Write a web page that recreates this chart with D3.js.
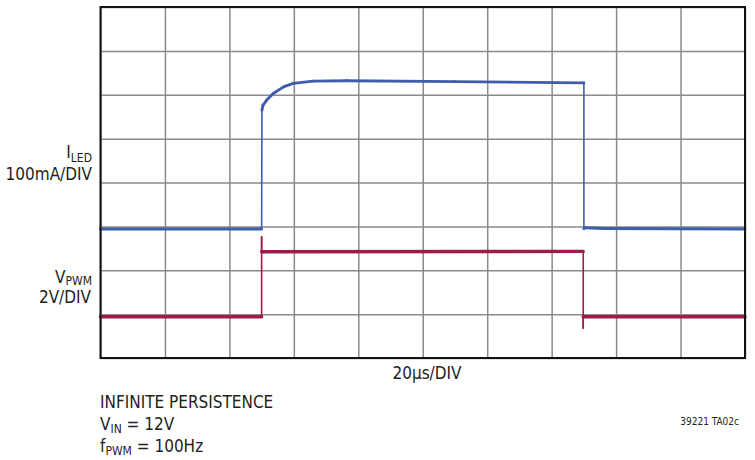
<!DOCTYPE html>
<html>
<head>
<meta charset="utf-8">
<script src="https://cdn.jsdelivr.net/npm/d3@7"></script>
<style>
  body { margin: 0; background: #fff; }
  svg text { font-family: "Liberation Sans Narrow", "DejaVu Sans Condensed", "Liberation Sans", sans-serif; fill: #231f20; }
</style>
</head>
<body>
<svg id="scope" width="755" height="460"></svg>
<script>
// scope grid: 10 x 8 divisions
var xDivs = d3.range(0, 11);
var yDivs = d3.range(0, 9);

// I_LED trace (time in div, level in div from bottom)
var ledTime  = [0, 2.5, 2.505, 2.52, 2.58, 2.68, 2.84, 2.99, 3.3, 3.82, 5.5, 7.49, 7.5, 7.5, 7.53, 7.8, 10];
var ledLevel = [2.94, 2.94, 5.65, 5.76, 5.88, 6.03, 6.18, 6.26, 6.31, 6.32, 6.30, 6.27, 6.27, 2.95, 2.97, 2.95, 2.94];

// V_PWM trace
var pwmTime  = [0, 2.5, 2.5, 2.5, 2.51, 7.49, 7.49, 7.49, 7.5, 10];
var pwmLevel = [0.94, 0.94, 2.76, 2.42, 2.42, 2.43, 0.68, 0.94, 0.94, 0.94];

var svg = d3.select("#scope");

var margin = {left: 100.5, top: 7, right: 10, bottom: 102};
var plotWidth = 755 - margin.left - margin.right;
var plotHeight = 460 - margin.top - margin.bottom;

var x = d3.scaleLinear().domain([0, 10]).range([0, plotWidth]);
var y = d3.scaleLinear().domain([0, 8]).range([plotHeight, 0]);

var plot = svg.append("g")
  .attr("transform", "translate(" + margin.left + "," + margin.top + ")");

// grid lines
var xGrid = d3.axisBottom(x).tickValues(xDivs).tickSize(-plotHeight).tickFormat("");
var yGrid = d3.axisLeft(y).tickValues(yDivs).tickSize(-plotWidth).tickFormat("");

plot.append("g").attr("class", "grid")
  .attr("transform", "translate(0," + plotHeight + ")")
  .call(xGrid);
plot.append("g").attr("class", "grid")
  .call(yGrid);
plot.selectAll(".grid .domain").remove();
plot.selectAll(".grid line")
  .attr("stroke", "#8a8a8a")
  .attr("stroke-width", 1.5);

// trace drawn piece by piece: fast edges are thinner on a scope
function drawTrace(times, levels, colour, flatWidth, edgeWidth) {
  var pts = d3.zip(times, levels);
  var segs = d3.pairs(pts);
  plot.append("g").selectAll("line")
    .data(segs)
    .join("line")
    .attr("x1", function(d){ return x(d[0][0]); })
    .attr("y1", function(d){ return y(d[0][1]); })
    .attr("x2", function(d){ return x(d[1][0]); })
    .attr("y2", function(d){ return y(d[1][1]); })
    .attr("stroke", colour)
    .attr("stroke-linecap", "round")
    .attr("stroke-width", function(d){
      var dx = Math.abs(x(d[1][0]) - x(d[0][0]));
      var dy = Math.abs(y(d[1][1]) - y(d[0][1]));
      return dy > dx * 3 && dy > 8 ? edgeWidth : flatWidth;
    });
}

drawTrace(pwmTime, pwmLevel, "#a01c48", 3.4, 1.6);
drawTrace(ledTime, ledLevel, "#3f5dab", 2.9, 1.6);

// frame
plot.append("rect")
  .attr("x", 0).attr("y", 0)
  .attr("width", plotWidth).attr("height", plotHeight)
  .attr("fill", "none")
  .attr("stroke", "#111")
  .attr("stroke-width", 2);

// left labels
var t1 = svg.append("text").attr("x", 92).attr("y", 158)
  .style("font-size", "17px").style("text-anchor", "end");
t1.append("tspan").text("I");
t1.append("tspan").attr("dy", 4).style("font-size", "12px").text("LED");

svg.append("text").attr("x", 92).attr("y", 180)
  .style("font-size", "17px").style("text-anchor", "end")
  .text("100mA/DIV");

var t2 = svg.append("text").attr("x", 92).attr("y", 283)
  .style("font-size", "17px").style("text-anchor", "end");
t2.append("tspan").text("V");
t2.append("tspan").attr("dy", 2).style("font-size", "12px").text("PWM");

svg.append("text").attr("x", 91).attr("y", 303)
  .style("font-size", "17px").style("text-anchor", "end")
  .text("2V/DIV");

// x label
svg.append("text").attr("x", 427).attr("y", 379)
  .style("font-size", "17px").style("text-anchor", "middle")
  .text("20µs/DIV");

// notes
svg.append("text").attr("x", 100).attr("y", 408)
  .style("font-size", "17px")
  .text("INFINITE PERSISTENCE");

var t3 = svg.append("text").attr("x", 100).attr("y", 430).style("font-size", "17px");
t3.append("tspan").text("V");
t3.append("tspan").attr("dy", 3).style("font-size", "12px").text("IN");
t3.append("tspan").attr("dy", -3).text(" = 12V");

var t4 = svg.append("text").attr("x", 100).attr("y", 452).style("font-size", "17px");
t4.append("tspan").text("f");
t4.append("tspan").attr("dy", 3).style("font-size", "12px").text("PWM");
t4.append("tspan").attr("dy", -3).text(" = 100Hz");

svg.append("text").attr("x", 739).attr("y", 425)
  .style("font-size", "10px").style("text-anchor", "end")
  .text("39221 TA02c");
</script>
</body>
</html>
